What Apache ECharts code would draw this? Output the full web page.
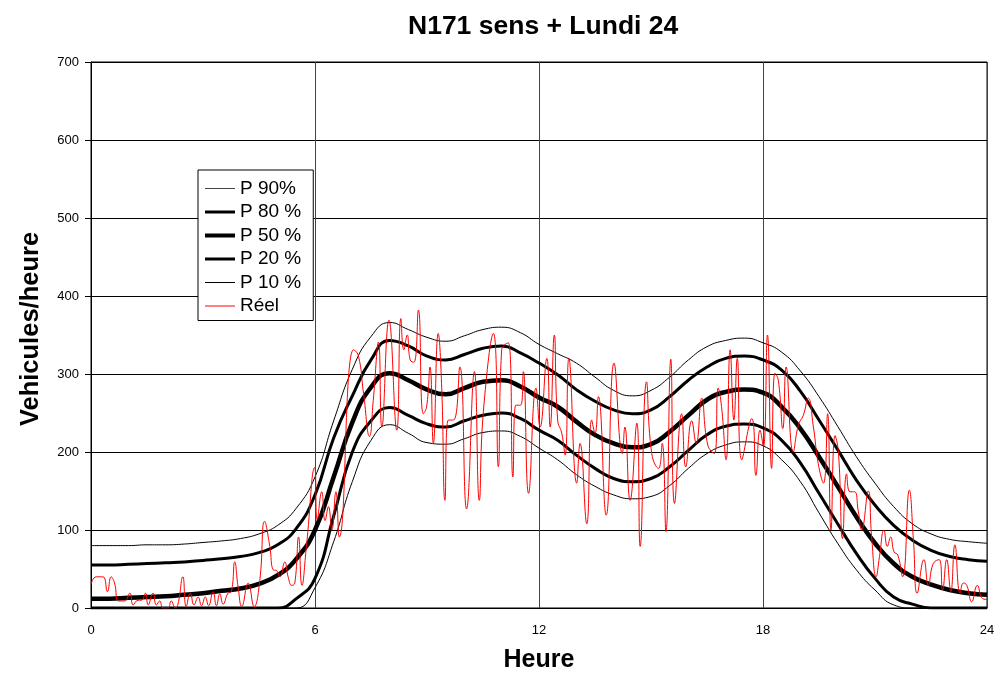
<!DOCTYPE html>
<html>
<head>
<meta charset="utf-8">
<script src="https://cdn.jsdelivr.net/npm/echarts@6/dist/echarts.min.js"></script>
<style>
html,body{margin:0;padding:0;background:#fff;}
#chart{width:1002px;height:675px;}
</style>
</head>
<body>
<div id="chart"></div>
<script>
// ---- Data ----
const chartTitle = 'N171 sens + Lundi 24';
const xTitle = 'Heure';
const yTitle = 'Vehicules/heure';
const seriesNames = ['P 90%', 'P 80 %', 'P 50 %', 'P 20 %', 'P 10 %', 'Réel'];

const hours = [0,0.5,1,1.5,2,2.5,3,3.5,4,4.5,5,5.5,6,6.5,7,7.5,8,8.5,9,9.5,10,10.5,11,11.5,12,
  12.5,13,13.5,14,14.5,15,15.5,16,16.5,17,17.5,18,18.5,19,19.5,20,20.5,21,21.5,22,22.5,23,23.5,24];

const p90 = [80,80,80,81,81,82,84,86,89,95,106,128,168,240,306,348,366,357,347,342,349,357,360,353,338,
  326,314,296,279,272,279,296,318,335,343,346,340,328,304,271,233,194,160,130,108,95,88,85,83];
const p80 = [55,55,56,57,58,59,61,63,66,71,81,102,145,218,272,318,343,336,323,318,325,333,336,327,314,
  299,280,265,254,249,254,271,292,309,320,323,318,305,278,241,203,164,132,106,87,74,66,62,60];
const p50 = [12,12,13,14,15,17,19,22,25,31,42,63,100,168,238,283,301,292,280,274,282,290,292,284,270,
  258,239,222,211,206,210,226,247,267,277,280,276,258,230,194,156,117,83,57,40,30,23,19,17];
const p20 = [0,0,0,0,0,0,0,0,0,0,0,12,38,118,200,240,257,247,236,232,240,247,250,243,228,
  215,196,179,166,162,166,181,202,222,233,236,231,215,186,147,108,70,38,14,5,0,0,0,0];
const p10 = [0,0,0,0,0,0,0,0,0,0,0,0,26,85,162,215,235,224,212,210,217,225,227,220,205,
  190,171,156,145,140,143,157,179,198,209,213,208,190,162,122,83,49,23,4,0,0,0,0,0];

const reelHours = [0,0.14,0.32,0.44,0.54,0.63,0.74,0.90,1.04,1.13,1.26,1.35,1.46,1.53,1.66,1.75,1.84,1.93,2.06,2.15,
  2.26,2.33,2.46,2.55,2.66,2.76,2.87,2.96,3.06,3.15,3.27,3.36,3.45,3.54,3.67,3.76,3.85,3.94,4.04,4.21,
  4.37,4.52,4.65,4.79,4.88,4.97,5.06,5.19,5.28,5.38,5.46,5.56,5.65,5.77,5.99,6.06,6.18,6.27,6.36,6.45,
  6.56,6.65,7.03,7.16,7.30,7.46,7.56,7.70,7.79,7.98,8.19,8.30,8.38,8.47,8.55,8.65,8.77,8.90,8.99,9.08,
  9.17,9.30,9.39,9.48,9.57,9.71,9.88,10.06,10.27,10.40,10.51,10.78,10.91,11.00,11.18,11.30,11.38,11.51,11.58,11.72,
  11.92,12.03,12.21,12.30,12.41,12.50,12.61,12.70,12.80,13.01,13.10,13.28,13.41,13.50,13.59,13.80,14.01,14.23,14.30,14.44,
  14.62,14.71,14.88,15.02,15.20,15.30,15.40,15.53,15.63,15.82,15.93,16.09,16.21,16.36,16.52,16.70,16.80,16.89,17.01,17.12,
  17.22,17.31,17.43,17.70,17.81,17.92,18.01,18.12,18.23,18.32,18.41,18.53,18.62,18.81,18.95,19.08,19.21,19.35,19.48,19.62,
  19.73,19.82,19.93,20.02,20.13,20.24,20.33,20.45,20.55,20.64,20.82,20.91,21.03,21.12,21.24,21.33,21.42,21.51,21.61,21.74,
  21.92,22.03,22.13,22.31,22.43,22.56,22.72,22.81,22.92,23.03,23.14,23.28,23.37,23.46,23.59,23.74,23.88,24.00];
const reelValues = [30,40,40,21,40,32,9,9,19,4,10,10,19,4,19,4,9,0,0,9,
  0,5,40,2,19,4,14,3,14,3,21,3,18,5,19,21,59,27,2,32,
  2,35,111,79,49,48,40,59,40,29,32,91,29,79,180,113,149,112,130,100,
  149,91,331,324,275,220,266,341,232,369,228,371,331,350,318,315,382,249,258,309,
  211,352,288,138,241,241,309,127,303,138,252,352,181,331,340,168,260,260,303,147,
  282,232,320,232,350,241,224,196,320,160,211,108,241,224,271,119,314,198,232,138,
  237,79,290,198,179,211,98,319,134,249,181,240,211,269,209,198,282,258,190,331,
  241,320,190,243,170,228,207,350,179,301,292,230,309,200,235,247,269,232,185,160,
  249,100,221,200,89,172,149,149,125,100,150,91,40,66,100,79,91,72,68,40,
  151,87,19,62,29,57,62,23,62,21,81,19,32,29,8,29,12,11];

const xTicks = {min: 0, max: 24, interval: 6};
const yTicks = {min: 0, max: 700, interval: 100};

// ---- Chart ----
const FONT = '"Liberation Sans", Arial, sans-serif';
const pairs = (xs, ys) => xs.map((x, i) => [x, ys[i]]);
const pct = [p90, p80, p50, p20, p10];
const widths = [1, 3, 4.5, 3, 1];
const legendWidths = [1, 3, 4, 3, 1, 1];
const legendColors = ['#444', '#000', '#000', '#000', '#000', '#ff0000'];

const series = pct.map((arr, i) => ({
  name: seriesNames[i],
  type: 'line',
  data: pairs(hours, arr),
  smooth: 0.5,
  showSymbol: false,
  symbol: 'none',
  clip: true,
  lineStyle: {color: '#000', width: widths[i]},
  itemStyle: {color: '#000'},
  animation: false,
  z: 2
}));
series.push({
  name: seriesNames[5],
  type: 'line',
  data: pairs(reelHours, reelValues),
  smooth: 0.5,
  showSymbol: false,
  symbol: 'none',
  clip: true,
  lineStyle: {color: '#ff0000', width: 1},
  itemStyle: {color: '#ff0000'},
  animation: false,
  z: 3
});

const chart = echarts.init(document.getElementById('chart'), null, {renderer: 'canvas'});
chart.setOption({
  animation: false,
  backgroundColor: '#fff',
  title: {
    text: chartTitle,
    left: 403,
    top: 8,
    textStyle: {fontFamily: FONT, fontSize: 26.5, fontWeight: 'bold', color: '#000'}
  },
  grid: {left: 91, right: 15, top: 62, bottom: 67, containLabel: false,
    outerBoundsMode: 'none',
    show: true, borderColor: '#000', borderWidth: 1},
  legend: {
    orient: 'vertical',
    left: 198,
    top: 170,
    data: seriesNames.map((n, i) => ({
      name: n,
      lineStyle: {width: legendWidths[i], color: legendColors[i]}
    })),
    itemWidth: 30,
    itemHeight: 14,
    itemGap: 4.5,
    padding: [9, 12, 5, 5],
    backgroundColor: '#fff',
    borderColor: '#000',
    borderWidth: 1,
    borderRadius: 0,
    itemStyle: {opacity: 0, borderWidth: 0},
    textStyle: {fontFamily: FONT, fontSize: 19, color: '#000'},
    selectedMode: false
  },
  xAxis: {
    type: 'value',
    min: xTicks.min, max: xTicks.max, interval: xTicks.interval,
    name: xTitle,
    nameLocation: 'middle',
    nameGap: 40,
    nameTextStyle: {fontFamily: FONT, fontSize: 25, fontWeight: 'bold', color: '#000'},
    axisLine: {show: true, lineStyle: {color: '#000', width: 1}},
    axisTick: {show: false},
    axisLabel: {fontFamily: FONT, fontSize: 13, color: '#000', margin: 16},
    splitLine: {show: true, lineStyle: {color: '#444', width: 1}}
  },
  yAxis: {
    type: 'value',
    min: yTicks.min, max: yTicks.max, interval: yTicks.interval,
    name: yTitle,
    nameLocation: 'middle',
    nameGap: 47,
    nameTextStyle: {fontFamily: FONT, fontSize: 25.5, fontWeight: 'bold', color: '#000', padding: [0, 0, 0, 12]},
    axisLine: {show: true, lineStyle: {color: '#000', width: 1}},
    axisTick: {show: true, inside: false, length: 6, lineStyle: {color: '#000'}},
    axisLabel: {fontFamily: FONT, fontSize: 13, color: '#000', margin: 12},
    splitLine: {show: true, lineStyle: {color: '#000', width: 1}}
  },
  series: series
});
</script>
</body>
</html>
